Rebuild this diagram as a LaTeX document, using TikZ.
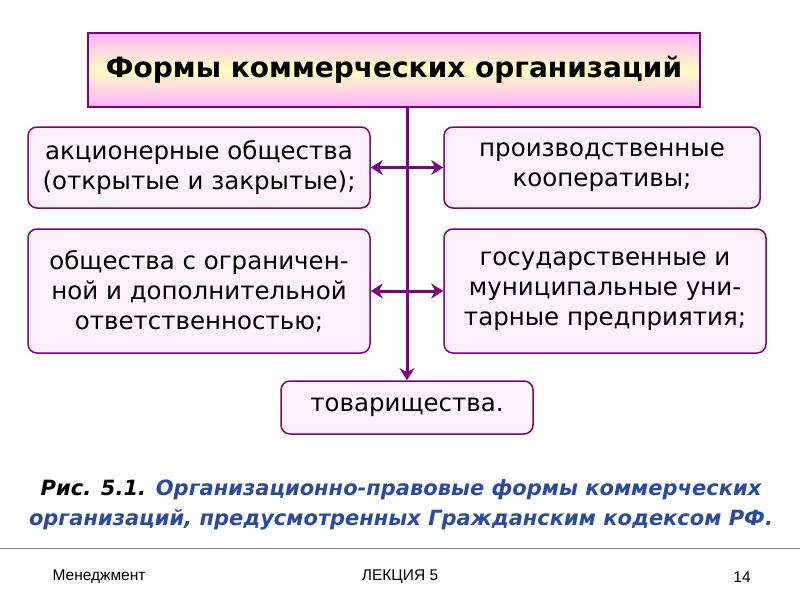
\documentclass[tikz,border=0pt]{standalone}
\usepackage{fontspec}
\setmainfont{DejaVu Sans}
\newfontfamily\footfont{Liberation Sans}
\usetikzlibrary{arrows.meta}
\definecolor{pur}{HTML}{800080}
\definecolor{boxf}{HTML}{FDF0FD}
\definecolor{capblue}{HTML}{2A4AA0}
\tikzset{
 box/.style={draw=pur,line width=1.5pt,fill=boxf,rounded corners=9pt,align=center,inner sep=1pt,font=\fontsize{24.5}{30}\selectfont},
 conn/.style={draw=pur,line width=3pt},
 arr/.style={conn,{Stealth[length=12pt,width=15pt]}-{Stealth[length=12pt,width=15pt]}},
 foot/.style={font=\footfont\fontsize{15.5}{18}\selectfont}
}
\begin{document}
\begin{tikzpicture}[x=1pt,y=-1pt]
\useasboundingbox (0,0) rectangle (800,600);
\node[draw=pur,line width=1.8pt,minimum width=612pt,minimum height=74pt,top color=magenta!30,bottom color=magenta!30,middle color=yellow!25,font=\bfseries\fontsize{28}{32}\selectfont] (t) at (394,70) {Формы коммерческих организаций};
\node[box,minimum width=342pt,minimum height=81pt] (l1) at (199,167.5) {акционерные общества\\(открытые и закрытые);};
\node[box,minimum width=316pt,minimum height=81pt] (r1) at (602,167.5) {производственные\\кооперативы;};
\node[box,minimum width=342pt,minimum height=124pt] (l2) at (199,291) {общества с ограничен-\\ной  и дополнительной\\ответственностью;};
\node[box,minimum width=322pt,minimum height=124pt] (r2) at (605,291) {государственные и\\муниципальные уни-\\тарные предприятия;};
\node[box,minimum width=252pt,minimum height=53pt] (b) at (407,407.5) {товарищества.};
\draw[conn,-{Stealth[length=12pt,width=15pt]}] (t.south -| b.north) -- (b.north);
\draw[arr] (l1.east) -- (r1.west);
\draw[arr] (l2.east) -- (l2.east -| r2.west);
\node[align=center,font=\bfseries\itshape\fontsize{21}{30}\selectfont] (cap) at (401,505) {Рис. 5.1. \textcolor{capblue}{Организационно-правовые формы коммерческих}\\\textcolor{capblue}{организаций, предусмотренных Гражданским кодексом РФ.}};
\coordinate (fl) at (0,548);
\coordinate (fr) at (800,548);
\draw[gray,line width=1pt] (fl) -- (fr);
\node[foot] (f1) at (99,577) {Менеджмент};
\node[foot] (f2) at (400,577) {ЛЕКЦИЯ 5};
\node[foot] (f3) at (742,577) {14};
\end{tikzpicture}
\end{document}
